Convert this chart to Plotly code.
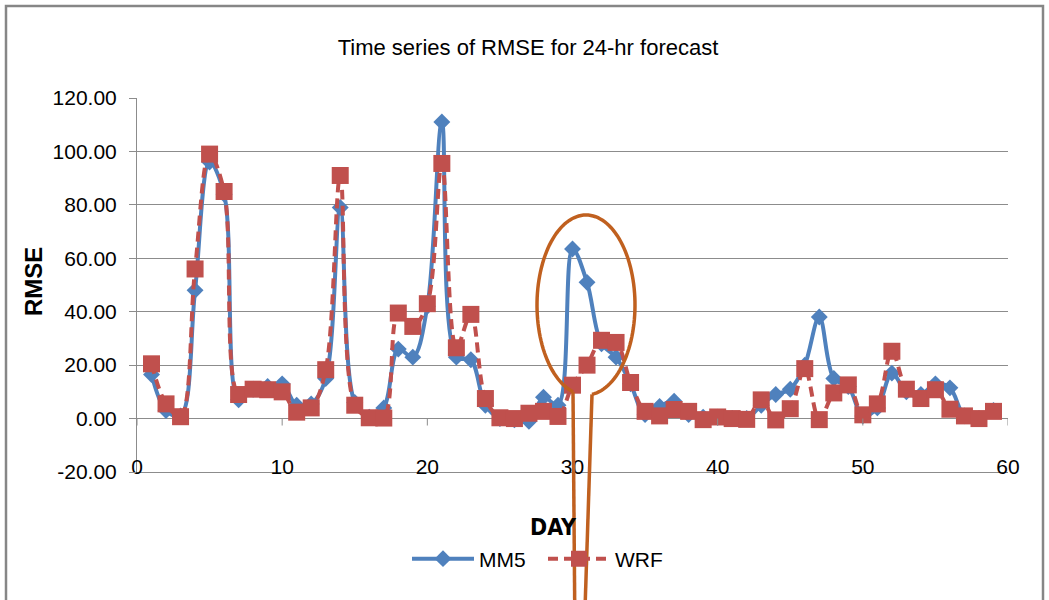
import numpy as np
import plotly.graph_objects as go

# ---------------- data ----------------
days = list(range(1, 60))
mm5 = [16.5, 3, 1, 48, 96, 84, 7, 11, 12, 13,
       5, 5.5, 15, 79, 6, 0.5, 4, 26, 23, 42,
       111, 23, 22, 5, 0, -0.5, -1, 8, 5, 63.5,
       51, 28, 23, 13, 1.5, 4.5, 6.5, 1.5, 0.5, 0.5,
       0, 0, 5, 9, 11, 20, 38, 15, 12, 1,
       4, 17, 10, 9, 13, 11.5, 1, 0, 3]
wrf = [20.5, 5.5, 0.7, 56, 99, 85, 9, 11, 10.8, 10,
       2.4, 4, 18.3, 91, 5, 0.3, 0.2, 39.5, 34.5, 43,
       95.5, 26.5, 39, 7.5, 0.3, 0, 2, 2.7, 0.8, 12.5,
       20, 29.3, 28.5, 13.5, 2.7, 1, 3.4, 2.7, -0.4, 0.6,
       0, -0.3, 7, -0.5, 3.7, 18.7, -0.4, 9.6, 12.6, 1.4,
       5.5, 25.2, 11, 7.5, 10.8, 3.5, 1, 0, 2.7]
x_ticks = [0, 10, 20, 30, 40, 50, 60]
y_ticks = [-20, 0, 20, 40, 60, 80, 100, 120]
y_ticktext = [f"{v:.2f}" for v in y_ticks]

# ---------------- layout constants ----------------
W, H = 1049, 600
L, R, T, B = 137, 41, 98, 128
PW, PH = W - L - R, H - T - B
GRID = "#8c8c8c"
ORANGE = "#c0601f"
BLUE = "#4f81bd"
RED = "#c0504d"


def px(xp):
    return (xp - L) / PW


def py(yp):
    return (H - B - yp) / PH


fig = go.Figure()
fig.add_trace(go.Scatter(
    x=days, y=mm5, name="MM5", mode="lines+markers",
    line=dict(color=BLUE, width=4, shape="spline", smoothing=1),
    marker=dict(symbol="diamond", size=13, color=BLUE),
))
fig.add_trace(go.Scatter(
    x=days, y=wrf, name="WRF", mode="lines+markers",
    line=dict(color=RED, width=4, dash="10px,6px", shape="spline", smoothing=1),
    marker=dict(symbol="square", size=17, color=RED),
))

shapes = []
# small ticks below the horizontal axis at y = 0
for xv in x_ticks:
    shapes.append(dict(type="line", xref="x", yref="y", x0=xv, x1=xv, y0=0, y1=-2.6,
                       line=dict(color=GRID, width=1)))

# chart-area border
shapes.append(dict(type="rect", xref="paper", yref="paper",
                   x0=px(6), x1=px(1043), y0=py(6), y1=py(640),
                   line=dict(color="#868686", width=2.5), fillcolor="rgba(0,0,0,0)"))

# orange callout ellipse (open at the bottom) and its two legs
cx, cy, rx, ry = 586, 305, 49, 90
t1 = np.arccos((573 - cx) / rx)          # left end of gap (bottom-left)
t0 = np.arccos((592 - cx) / rx)          # right end of gap (bottom-right)
ts = np.linspace(t1, t0 + 2 * np.pi, 120)
pts = [(px(cx + rx * np.cos(t)), py(cy + ry * np.sin(t))) for t in ts]
path = "M " + " L ".join(f"{a:.5f},{b:.5f}" for a, b in pts)
shapes.append(dict(type="path", xref="paper", yref="paper", path=path,
                   line=dict(color=ORANGE, width=3.5)))
lx, ly = cx + rx * np.cos(t1), cy + ry * np.sin(t1)
rxp, ryp = cx + rx * np.cos(t0), cy + ry * np.sin(t0)
shapes.append(dict(type="line", xref="paper", yref="paper",
                   x0=px(lx), y0=py(ly), x1=px(575), y1=py(640),
                   line=dict(color=ORANGE, width=3.5)))
shapes.append(dict(type="line", xref="paper", yref="paper",
                   x0=px(rxp), y0=py(ryp), x1=px(584), y1=py(640),
                   line=dict(color=ORANGE, width=3.5)))

annotations = [
    dict(text="<b>RMSE</b>", xref="paper", yref="paper", x=px(33), y=py(282),
         textangle=-90, showarrow=False, xanchor="center", yanchor="middle",
         font=dict(family="Liberation Sans, Arial, sans-serif", size=24, color="#000")),
    dict(text="<b>DAY</b>", xref="paper", yref="paper", x=px(553), y=py(527),
         showarrow=False, xanchor="center", yanchor="middle",
         font=dict(family="Liberation Sans Narrow, DejaVu Sans Condensed, Liberation Sans, sans-serif",
                   size=23, color="#000")),
]

fig.update_layout(
    width=W, height=H,
    margin=dict(l=L, r=R, t=T, b=B),
    paper_bgcolor="white", plot_bgcolor="white",
    title=dict(text="Time series of RMSE for 24-hr forecast",
               x=528 / W, xref="container", xanchor="center",
               y=(H - 47) / H, yref="container", yanchor="middle",
               font=dict(family="Liberation Sans, Arial, sans-serif", size=22, color="#000")),
    font=dict(family="Liberation Sans, Arial, sans-serif", size=21, color="#000"),
    showlegend=True,
    legend=dict(orientation="h", x=px(407), xanchor="left", y=py(559), yanchor="middle",
                font=dict(size=21), bgcolor="rgba(0,0,0,0)", itemwidth=62,
                entrywidth=59, entrywidthmode="pixels"),
    shapes=shapes,
    annotations=annotations,
)
fig.update_xaxes(range=[0, 60], tickvals=x_ticks, showgrid=False, zeroline=False,
                 showline=True, linecolor=GRID, linewidth=1, ticks="",
                 ticklabelstandoff=-24, tickfont=dict(size=21))
fig.update_yaxes(range=[-20, 120], tickvals=y_ticks, ticktext=y_ticktext,
                 showgrid=True, gridcolor=GRID, gridwidth=1,
                 zeroline=True, zerolinecolor=GRID, zerolinewidth=1,
                 showline=True, linecolor=GRID, linewidth=1,
                 ticks="outside", ticklen=7, tickcolor=GRID,
                 ticklabelstandoff=8, tickfont=dict(size=21))

fig.write_html("out.html", config={"displayModeBar": False},
               post_script="document.body.style.margin='0px';")
